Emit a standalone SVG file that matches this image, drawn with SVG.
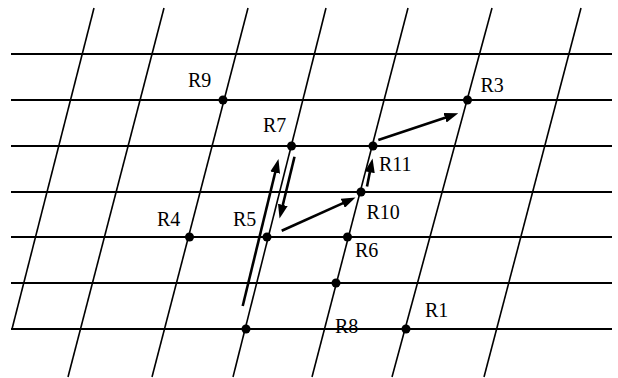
<svg xmlns="http://www.w3.org/2000/svg" width="618" height="378" viewBox="0 0 618 378">
  <style>
    .h { stroke: #000; stroke-width: 2; fill: none; }
    .s { stroke: #000; stroke-width: 1.6; fill: none; }
    .a { stroke: #000; stroke-width: 2.6; fill: none; marker-end: url(#ah); }
    .dot { fill: #000; }
    .lbl { font-family: "Liberation Serif", "Times New Roman", serif; font-size: 20px; fill: #000; }
  </style>
  <defs>
    <marker id="ah" markerUnits="userSpaceOnUse" markerWidth="14" markerHeight="10" viewBox="0 0 14 10" refX="4" refY="5" orient="auto">
      <path d="M0,0 L14,5 L0,10 z" fill="#000"/>
    </marker>
  </defs>
  <rect width="618" height="378" fill="#fff"/>
  <g id="grid">
    <line class="h" x1="11" y1="54" x2="612" y2="54"/>
    <line class="h" x1="11" y1="100" x2="612" y2="100"/>
    <line class="h" x1="11" y1="146" x2="612" y2="146"/>
    <line class="h" x1="11" y1="192" x2="612" y2="192"/>
    <line class="h" x1="11" y1="237" x2="612" y2="237"/>
    <line class="h" x1="11" y1="283" x2="612" y2="283"/>
    <line class="h" x1="11" y1="329" x2="612" y2="329"/>
    <line class="s" x1="94" y1="8" x2="12" y2="329"/>
    <line class="s" x1="164" y1="8" x2="68" y2="377"/>
    <line class="s" x1="248" y1="8" x2="152" y2="377"/>
    <line class="s" x1="326" y1="8" x2="233" y2="377"/>
    <line class="s" x1="408" y1="8" x2="312" y2="377"/>
    <line class="s" x1="492" y1="8" x2="392" y2="377"/>
    <line class="s" x1="581" y1="8" x2="484" y2="377"/>
  </g>
  <g id="connectors">
    <line class="a" x1="242.7" y1="306" x2="276.1" y2="168.7"/>
    <line class="a" x1="294.5" y1="156.7" x2="281.9" y2="208.8"/>
    <line class="a" x1="281.7" y1="230.7" x2="346.4" y2="201.6"/>
    <line class="a" x1="367" y1="186.5" x2="370.6" y2="168.3"/>
    <line class="a" x1="378.3" y1="140" x2="448.8" y2="116.5"/>
  </g>
  <g id="R9"><circle class="dot" cx="223" cy="100" r="4.5"/><text class="lbl" x="188" y="86.5">R9</text></g>
  <g id="R3"><circle class="dot" cx="467.5" cy="100" r="4.5"/><text class="lbl" x="480.5" y="91.5">R3</text></g>
  <g id="R7"><circle class="dot" cx="291.5" cy="146" r="4.5"/><text class="lbl" x="263" y="131.5">R7</text></g>
  <g id="R11"><circle class="dot" cx="373" cy="146" r="4.5"/><text class="lbl" x="379" y="171">R11</text></g>
  <g id="R10"><circle class="dot" cx="361" cy="192" r="4.5"/><text class="lbl" x="366.5" y="219">R10</text></g>
  <g id="R4"><circle class="dot" cx="189.5" cy="237" r="4.5"/><text class="lbl" x="157" y="226">R4</text></g>
  <g id="R5"><circle class="dot" cx="267" cy="237" r="4.5"/><text class="lbl" x="233" y="226">R5</text></g>
  <g id="R6"><circle class="dot" cx="347.5" cy="237" r="4.5"/><text class="lbl" x="355" y="256.5">R6</text></g>
  <g id="P1"><circle class="dot" cx="336" cy="283" r="4.5"/></g>
  <g id="P2"><circle class="dot" cx="246" cy="329" r="4.5"/></g>
  <g id="R8"><text class="lbl" x="335" y="333">R8</text></g>
  <g id="R1"><circle class="dot" cx="406" cy="329" r="4.5"/><text class="lbl" x="425" y="316.5">R1</text></g>
</svg>
